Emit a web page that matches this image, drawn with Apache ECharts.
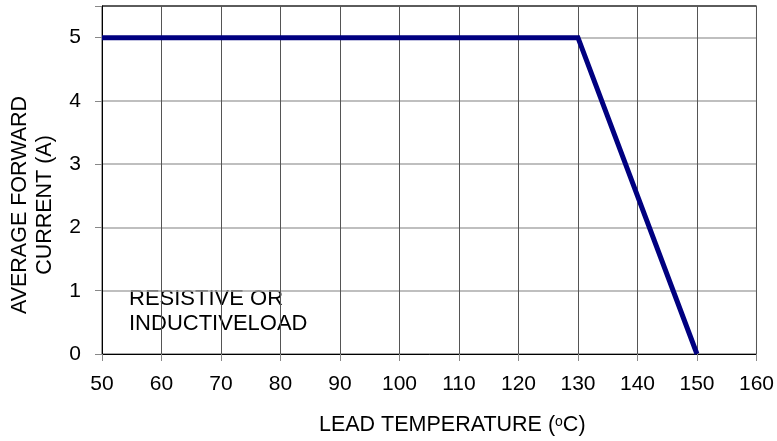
<!DOCTYPE html>
<html><head><meta charset="utf-8">
<script src="https://cdn.jsdelivr.net/npm/echarts@6/dist/echarts.min.js"></script>
<style>html,body{margin:0;padding:0;background:#fff}#c{width:777px;height:441px}</style>
</head><body><div id="c"></div>
<script>
const temperature = [50, 130, 150];
const current = [5, 5, 0];
const xTicks = [50, 160, 10];
const yTicks = [0, 5.5, 1];
const noteLines = ['RESISTIVE OR', 'INDUCTIVELOAD'];
const xName = ['LEAD TEMPERATURE (', 'o', 'C)'];
const yName = ['AVERAGE FORWARD', 'CURRENT (A)'];

const chart = echarts.init(document.getElementById('c'), null, {renderer: 'canvas'});
const font = 'Liberation Sans, Arial, sans-serif';
const ySplitColors = ['#aaa','#aaa','#aaa','#aaa','#aaa','#aaa','#444'];
chart.setOption({
  animation: false,
  backgroundColor: '#fff',
  textStyle: {fontFamily: font},
  grid: {left: 102, right: 17.5, top: 6, bottom: 87, show: true, borderColor: '#444', borderWidth: 1, backgroundColor: 'transparent'},
  xAxis: {
    type: 'value', min: xTicks[0], max: xTicks[1], interval: xTicks[2],
    axisLine: {show: true, onZero: false, lineStyle: {color: '#000', width: 1}},
    axisTick: {show: true, length: 7, lineStyle: {color: '#888'}},
    axisLabel: {fontSize: 21, color: '#000', margin: 20, fontFamily: font},
    splitLine: {show: true, lineStyle: {color: '#555', width: 1}},
    name: '{a|' + xName[0] + '}{s|' + xName[1] + '}{a|' + xName[2] + '}',
    nameLocation: 'middle', nameGap: 60,
    nameTextStyle: {padding: [0, 0, 0, 46], rich: {
      a: {fontSize: 21.5, color: '#000', fontFamily: font},
      s: {fontSize: 14, color: '#000', fontFamily: font, padding: [0, 0, 5, 0]}
    }}
  },
  yAxis: {
    type: 'value', min: yTicks[0], max: yTicks[1], interval: yTicks[2],
    axisLine: {show: true, lineStyle: {color: '#000', width: 1}},
    axisTick: {show: true, length: 7, lineStyle: {color: '#888'}},
    axisLabel: {fontSize: 21, color: '#000', margin: 21, fontFamily: font,
      formatter: v => (Number.isInteger(v) ? String(v) : '')},
    splitLine: {show: true, lineStyle: {color: ySplitColors, width: 1.5}},
    name: yName.join('\n'),
    nameLocation: 'middle', nameGap: 44, nameRotate: 90,
    nameTextStyle: {fontSize: 21.5, lineHeight: 25, color: '#000', fontFamily: font, padding: [0, 50, 0, 0], align: 'center'}
  },
  graphic: [{
    type: 'group', left: 122, top: 277, z: 50,
    children: [
      {type: 'rect', shape: {x: 0, y: 0, width: 197, height: 63}, style: {fill: '#fff'}},
      {type: 'text', x: 7, y: 9, style: {text: noteLines.join('\n'), font: '22px ' + font, fill: '#000', lineHeight: 25}}
    ]
  }],
  series: [{
    type: 'line', symbol: 'none', z: 10,
    data: temperature.map((t, i) => [t, current[i]]),
    lineStyle: {color: '#000080', width: 5, join: 'miter'}
  }]
});
</script></body></html>
